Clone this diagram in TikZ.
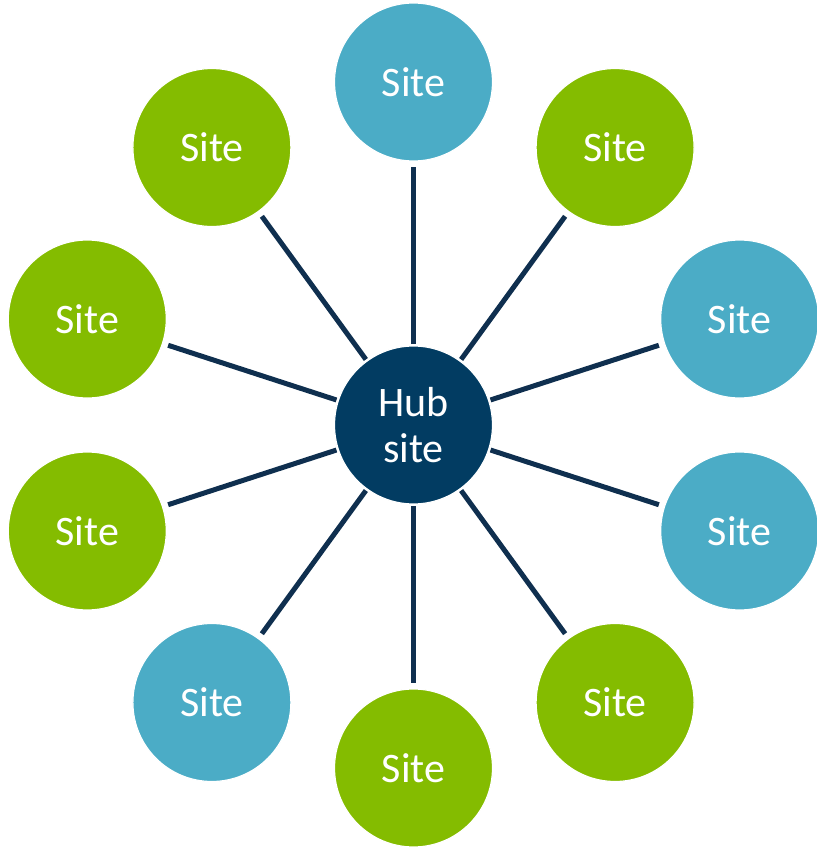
\documentclass[tikz,border=0pt]{standalone}
\usepackage{fontspec}
\setmainfont{Carlito}
\definecolor{siteblue}{HTML}{4BACC6}
\definecolor{sitegreen}{HTML}{84BC00}
\definecolor{hubblue}{HTML}{023C62}
\definecolor{linkcol}{HTML}{0F2F4F}
\begin{document}
\begin{tikzpicture}[x=1pt,y=1pt,
  sitenode/.style={circle, minimum size=158pt, inner sep=0pt, outer sep=0pt, draw=white, line width=1.2pt, text=white, font=\fontsize{42}{46}\selectfont},
  bluesite/.style={sitenode, fill=siteblue},
  greensite/.style={sitenode, fill=sitegreen},
  hubnode/.style={sitenode, fill=hubblue, align=center},
  link/.style={draw=linkcol, line width=5pt, shorten <=2pt, shorten >=6pt}]
\useasboundingbox (-413.5,-422) rectangle (403.5,425);
\node[hubnode] (hub) at (0,0) {Hub\\site};
\node[bluesite]  (s1)  at (90:343)   {Site};
\node[greensite] (s2)  at (54:343)   {Site};
\node[bluesite]  (s3)  at (18:343)   {Site};
\node[bluesite]  (s4)  at (-18:343)  {Site};
\node[greensite] (s5)  at (-54:343)  {Site};
\node[greensite] (s6)  at (-90:343)  {Site};
\node[bluesite]  (s7)  at (-126:343) {Site};
\node[greensite] (s8)  at (-162:343) {Site};
\node[greensite] (s9)  at (162:343)  {Site};
\node[greensite] (s10) at (126:343)  {Site};
\foreach \i in {1,...,10} {\draw[link] (hub) -- (s\i);}
\end{tikzpicture}
\end{document}
